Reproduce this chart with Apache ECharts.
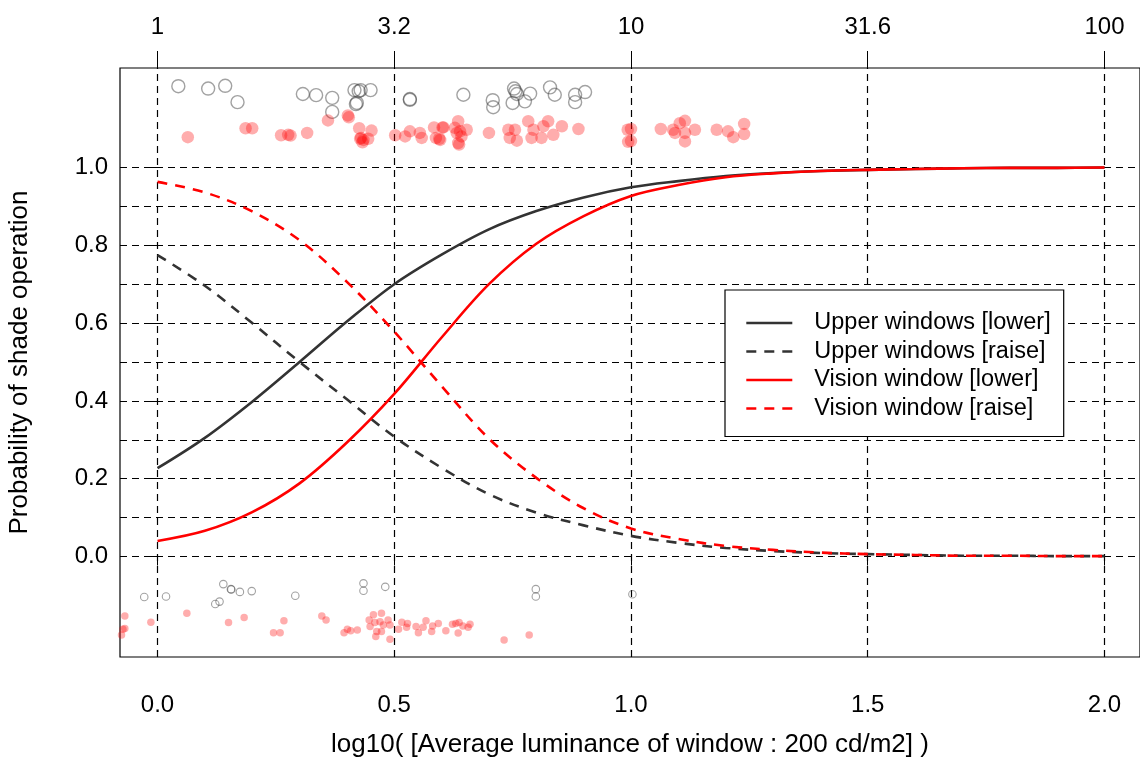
<!DOCTYPE html>
<html>
<head>
<meta charset="utf-8">
<script src="https://cdn.jsdelivr.net/npm/echarts@6/dist/echarts.min.js"></script>
<style>html,body{margin:0;padding:0;background:#fff}#c{width:1140px;height:761px}</style>
</head>
<body>
<div id="c"></div>
<script>
// ---- data ----
var curveX = [0,0.1,0.2,0.3,0.4,0.5,0.6,0.7,0.8,0.9,1.0,1.1,1.2,1.3,1.4,1.5,1.6,1.7,1.8,1.9,2.0];
var upperLower  = [0.227,0.305,0.398,0.500,0.604,0.700,0.776,0.841,0.888,0.923,0.949,0.965,0.978,0.986,0.991,0.994,0.996,0.998,0.999,0.999,1.000];
var upperRaise  = [0.775,0.696,0.600,0.500,0.404,0.308,0.228,0.160,0.113,0.080,0.053,0.035,0.022,0.014,0.009,0.006,0.004,0.002,0.002,0.001,0.001];
var visionLower = [0.040,0.066,0.114,0.188,0.293,0.418,0.563,0.700,0.804,0.875,0.927,0.955,0.975,0.985,0.991,0.994,0.996,0.998,0.999,0.999,1.000];
var visionRaise = [0.963,0.936,0.887,0.813,0.706,0.578,0.438,0.303,0.202,0.124,0.072,0.045,0.027,0.017,0.010,0.006,0.004,0.002,0.002,0.001,0.001];

var upperTopPts = [[0.044,1.209],[0.107,1.203],[0.143,1.210],[0.169,1.168],[0.307,1.189],[0.335,1.186],[0.369,1.179],[0.369,1.143],[0.416,1.199],[0.425,1.196],[0.429,1.199],[0.421,1.166],[0.419,1.163],[0.450,1.199],[0.533,1.176],[0.533,1.174],[0.646,1.187],[0.708,1.173],[0.709,1.155],[0.750,1.166],[0.753,1.203],[0.756,1.196],[0.759,1.189],[0.776,1.170],[0.787,1.190],[0.829,1.206],[0.839,1.187],[0.882,1.187],[0.882,1.168],[0.903,1.194]];
var visionTopPts = [[0.064,1.078],[0.186,1.101],[0.200,1.101],[0.261,1.083],[0.276,1.084],[0.281,1.082],[0.316,1.089],[0.360,1.121],[0.402,1.134],[0.404,1.129],[0.426,1.101],[0.452,1.095],[0.430,1.076],[0.435,1.071],[0.445,1.074],[0.433,1.065],[0.428,1.074],[0.502,1.083],[0.523,1.080],[0.533,1.093],[0.554,1.089],[0.558,1.076],[0.584,1.103],[0.602,1.103],[0.588,1.076],[0.595,1.074],[0.628,1.102],[0.632,1.089],[0.635,1.063],[0.604,1.103],[0.597,1.071],[0.635,1.119],[0.639,1.093],[0.642,1.080],[0.653,1.097],[0.637,1.059],[0.700,1.089],[0.741,1.097],[0.755,1.097],[0.744,1.076],[0.759,1.069],[0.783,1.119],[0.794,1.097],[0.790,1.076],[0.811,1.076],[0.825,1.119],[0.815,1.106],[0.836,1.084],[0.854,1.106],[0.889,1.099],[0.993,1.097],[0.994,1.066],[1.000,1.099],[1.000,1.068],[1.063,1.099],[1.089,1.097],[1.103,1.114],[1.114,1.120],[1.093,1.089],[1.114,1.089],[1.114,1.067],[1.135,1.097],[1.181,1.097],[1.205,1.093],[1.216,1.078],[1.239,1.112],[1.239,1.086]];
var upperBottomPts = [[-0.028,-0.104],[0.018,-0.103],[0.122,-0.122],[0.131,-0.116],[0.139,-0.071],[0.155,-0.084],[0.156,-0.085],[0.174,-0.091],[0.199,-0.089],[0.291,-0.101],[0.435,-0.069],[0.435,-0.088],[0.481,-0.078],[0.799,-0.084],[0.799,-0.103],[1.003,-0.097]];
var visionBottomPts = [[-0.069,-0.153],[-0.073,-0.187],[-0.069,-0.185],[-0.076,-0.202],[-0.014,-0.169],[0.062,-0.146],[0.150,-0.170],[0.183,-0.157],[0.245,-0.196],[0.259,-0.196],[0.267,-0.165],[0.347,-0.153],[0.356,-0.163],[0.394,-0.196],[0.401,-0.187],[0.408,-0.191],[0.422,-0.189],[0.447,-0.163],[0.456,-0.150],[0.473,-0.146],[0.449,-0.180],[0.459,-0.170],[0.470,-0.168],[0.477,-0.176],[0.487,-0.163],[0.491,-0.176],[0.463,-0.193],[0.473,-0.193],[0.461,-0.206],[0.491,-0.213],[0.509,-0.187],[0.516,-0.169],[0.528,-0.172],[0.526,-0.182],[0.546,-0.180],[0.551,-0.196],[0.561,-0.182],[0.567,-0.165],[0.579,-0.193],[0.581,-0.179],[0.593,-0.172],[0.609,-0.191],[0.623,-0.174],[0.630,-0.172],[0.637,-0.170],[0.635,-0.197],[0.645,-0.179],[0.660,-0.174],[0.656,-0.182],[0.732,-0.215],[0.785,-0.202]];

var xTicks = [0,0.5,1.0,1.5,2.0];
var topTickLabels = ['1','3.2','10','31.6','100'];
var yTicks = [0,0.2,0.4,0.6,0.8,1.0];
var yGrid = [0,0.1,0.2,0.3,0.4,0.5,0.6,0.7,0.8,0.9,1.0];
var seriesNames = ['Upper windows [lower]','Upper windows [raise]','Vision window [lower]','Vision window [raise]'];

// ---- chart ----
var FONT = "'Liberation Sans', Arial, Helvetica, sans-serif";
var XMIN = -0.0792, XMAX = 2.075, YMIN = -0.2584, YMAX = 1.2558;
function pairs(xs, ys){ return xs.map(function(x,i){ return [x, ys[i]]; }); }
var gridStyle = {color:'#000', width:1.2, type:[7,5]};
var chart = echarts.init(document.getElementById('c'), null, {renderer:'canvas'});
var dark = '#333333', red = '#ff0000';
function curve(name, ys, color, dashed){
  return {name:name, type:'line', data:pairs(curveX, ys), symbol:'none', smooth:0.35,
    lineStyle:{color:color, width:2.6, type: dashed ? [10,8] : 'solid'}, itemStyle:{color:color}, z:5, silent:true};
}
chart.setOption({
  animation:false,
  backgroundColor:'#fff',
  grid:{left:120, right:0, top:68, bottom:104, containLabel:false, outerBoundsMode:'none',
    show:true, borderColor:'#000', borderWidth:1.2, backgroundColor:'transparent'},
  xAxis:[{
    type:'value', min:XMIN, max:XMAX, position:'bottom',
    name:'log10( [Average luminance of window : 200 cd/m2] )', nameLocation:'middle', nameGap:75,
    nameTextStyle:{fontFamily:FONT, fontSize:26, color:'#000'},
    axisLine:{show:false}, splitLine:{show:false},
    axisTick:{show:true, length:9, customValues:xTicks, lineStyle:{color:'#000'}},
    axisLabel:{customValues:xTicks, margin:36, fontFamily:FONT, fontSize:24, color:'#000',
      formatter:function(v){ return v.toFixed(1); }}
  },{
    type:'value', min:XMIN, max:XMAX, position:'top',
    axisLine:{show:false}, splitLine:{show:false},
    axisTick:{show:true, length:17, customValues:xTicks, lineStyle:{color:'#000'}},
    axisLabel:{customValues:xTicks, margin:29, fontFamily:FONT, fontSize:24, color:'#000',
      formatter:function(v){ var i = xTicks.indexOf(Math.round(v*10)/10); return i>=0 ? topTickLabels[i] : ''; }}
  }],
  yAxis:{
    type:'value', min:YMIN, max:YMAX,
    name:'Probability of shade operation', nameLocation:'middle', nameGap:87, nameRotate:90,
    nameTextStyle:{fontFamily:FONT, fontSize:26, color:'#000'},
    axisLine:{show:false}, splitLine:{show:false},
    axisTick:{show:true, length:8, customValues:yTicks, lineStyle:{color:'#000'}},
    axisLabel:{customValues:yTicks, margin:12, fontFamily:FONT, fontSize:24, color:'#000',
      formatter:function(v){ return v.toFixed(1); }}
  },
  legend:{
    data:seriesNames, orient:'vertical', left:725, top:290, z:20,
    backgroundColor:'#fff', borderColor:'#000', borderWidth:1.2, borderRadius:0,
    padding:[21,13,16,20], itemGap:4.5, itemWidth:46, itemHeight:22,
    itemStyle:{opacity:0},
    lineStyle:{width:2.6},
    textStyle:{fontFamily:FONT, fontSize:23.5, lineHeight:22, color:'#000', padding:[0,0,0,17]},
    selectedMode:false
  },
  series:[
    {name:'grid', type:'line', data:[], silent:true, z:1,
      markLine:{silent:true, z:1, symbol:'none', label:{show:false}, lineStyle:gridStyle, animation:false,
        data: xTicks.map(function(v){ return {xAxis:v}; }).concat(yGrid.map(function(v){ return {yAxis:v}; }))}},
    curve(seriesNames[0], upperLower, dark, false),
    curve(seriesNames[1], upperRaise, dark, true),
    curve(seriesNames[2], visionLower, red, false),
    curve(seriesNames[3], visionRaise, red, true),
    {name:'upperTop', type:'scatter', data:upperTopPts, symbol:'circle', symbolSize:13, z:4, silent:true,
      itemStyle:{color:'rgba(0,0,0,0)', borderColor:'rgba(60,60,60,0.6)', borderWidth:1.4}},
    {name:'visionTop', type:'scatter', data:visionTopPts, symbol:'circle', symbolSize:12.5, z:4, silent:true,
      itemStyle:{color:'rgba(255,0,0,0.4)', borderWidth:0}},
    {name:'upperBottom', type:'scatter', data:upperBottomPts, symbol:'circle', symbolSize:7.5, z:4, silent:true,
      itemStyle:{color:'rgba(0,0,0,0)', borderColor:'rgba(60,60,60,0.6)', borderWidth:1.1}},
    {name:'visionBottom', type:'scatter', data:visionBottomPts, symbol:'circle', symbolSize:7.5, z:4, silent:true,
      itemStyle:{color:'rgba(255,0,0,0.4)', borderWidth:0}}
  ]
});
</script>
</body>
</html>
